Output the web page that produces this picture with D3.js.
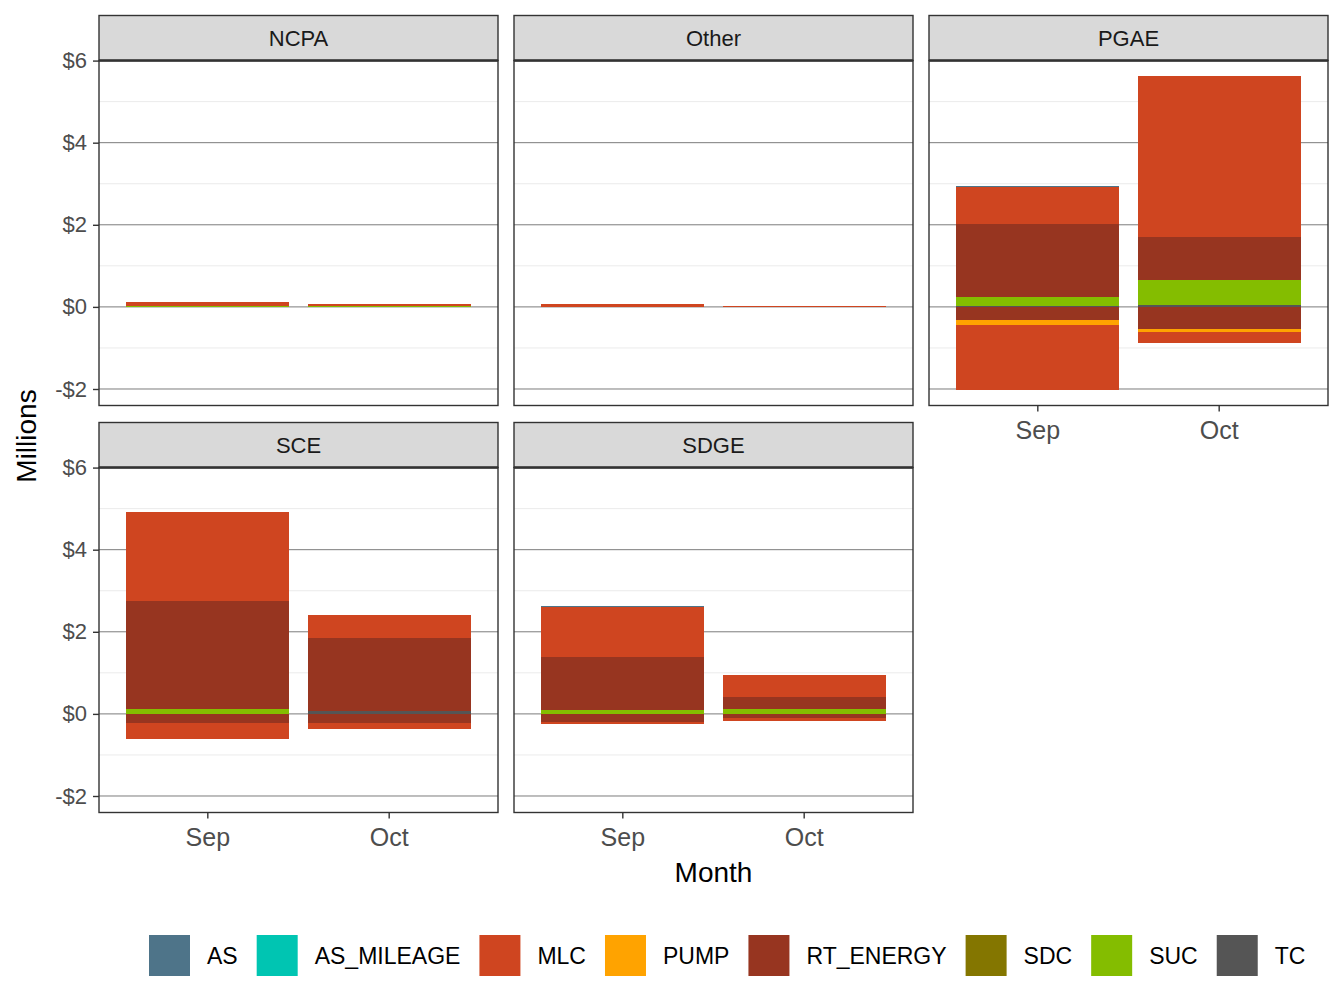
<!DOCTYPE html>
<html>
<head>
<meta charset="utf-8">
<script src="https://cdn.jsdelivr.net/npm/d3@7"></script>
<style>
  body { margin: 0; background: #fff; }
  text { font-family: "Liberation Sans", Arial, Helvetica, sans-serif; }
</style>
</head>
<body>
<div id="chart"></div>
<script>
// facets, months and cost categories
var facets = ["NCPA", "Other", "PGAE", "SCE", "SDGE"];
var months = ["Sep", "Oct"];
var categories = ["AS", "AS_MILEAGE", "MLC", "PUMP", "RT_ENERGY", "SDC", "SUC", "TC"];
var colors = ["#4e7489", "#00c5b2", "#cf4520", "#ffa300", "#973520", "#847600", "#84bd00", "#555555"];
var yTicks = [-2, 0, 2, 4, 6];

// rows: [month, category, millions]
var ncpa = [
    ["Sep", "MLC", 0.11], ["Sep", "SUC", 0.01],
    ["Oct", "MLC", 0.07], ["Oct", "SUC", 0.01]
];
var other = [
    ["Sep", "MLC", 0.08],
    ["Oct", "MLC", 0.03]
];
var pgae = [
    ["Sep", "AS", 0.03], ["Sep", "MLC", 0.90], ["Sep", "RT_ENERGY", 1.78], ["Sep", "SUC", 0.20], ["Sep", "TC", 0.03],
    ["Sep", "RT_ENERGY", -0.33], ["Sep", "PUMP", -0.10], ["Sep", "MLC", -1.59],
    ["Oct", "MLC", 3.92], ["Oct", "RT_ENERGY", 1.04], ["Oct", "SUC", 0.61], ["Oct", "TC", 0.05],
    ["Oct", "RT_ENERGY", -0.53], ["Oct", "PUMP", -0.07], ["Oct", "MLC", -0.27]
];
var sce = [
    ["Sep", "MLC", 2.17], ["Sep", "RT_ENERGY", 2.63], ["Sep", "SUC", 0.12],
    ["Sep", "RT_ENERGY", -0.21], ["Sep", "MLC", -0.39],
    ["Oct", "MLC", 0.56], ["Oct", "RT_ENERGY", 1.80], ["Oct", "TC", 0.06],
    ["Oct", "RT_ENERGY", -0.22], ["Oct", "MLC", -0.15]
];
var sdge = [
    ["Sep", "AS", 0.03], ["Sep", "MLC", 1.22], ["Sep", "RT_ENERGY", 1.29], ["Sep", "SUC", 0.10],
    ["Sep", "RT_ENERGY", -0.19], ["Sep", "MLC", -0.05],
    ["Oct", "MLC", 0.54], ["Oct", "RT_ENERGY", 0.29], ["Oct", "SUC", 0.12],
    ["Oct", "RT_ENERGY", -0.10], ["Oct", "MLC", -0.07]
];
var facetRows = { NCPA: ncpa, Other: other, PGAE: pgae, SCE: sce, SDGE: sdge };

var width = 1344, height = 1008;
var font = "'Liberation Sans', Arial, Helvetica, sans-serif";
var svg = d3.select("#chart").append("svg").attr("width", width).attr("height", height);

// layout of the facet grid
var colX = [99, 514, 929], colW = 399;
var rowY = [60.5, 467.5], panelH = 345, stripH = 45;

// stack keys: TC nearest zero, AS farthest (ggplot order)
var keys = [];
categories.slice().reverse().forEach(function (c) {
    keys.push(c + "|pos");
    keys.push(c + "|neg");
});

function tableFor(rows) {
    return months.map(function (m) {
        var o = { month: m };
        keys.forEach(function (k) { o[k] = 0; });
        rows.forEach(function (r) {
            if (r[0] !== m) return;
            o[r[1] + (r[2] >= 0 ? "|pos" : "|neg")] += r[2];
        });
        return o;
    });
}

var stack = d3.stack().keys(keys).offset(d3.stackOffsetDiverging);
var stacked = {};
var lo = 0, hi = 0;
facets.forEach(function (f) {
    stacked[f] = stack(tableFor(facetRows[f]));
    stacked[f].forEach(function (s) {
        s.forEach(function (d) {
            lo = Math.min(lo, d[0], d[1]);
            hi = Math.max(hi, d[0], d[1]);
        });
    });
});
var pad = (hi - lo) * 0.05;

var color = d3.scaleOrdinal().domain(categories).range(colors);

facets.forEach(function (f, i) {
    var col = i % 3, row = Math.floor(i / 3);
    var x0 = colX[col], y0 = rowY[row];
    var g = svg.append("g");

    var x = d3.scaleBand().domain(months).range([x0, x0 + colW]).paddingInner(0.1).paddingOuter(0.15);
    var y = d3.scaleLinear().domain([lo - pad, hi + pad]).range([y0 + panelH, y0]);

    // minor grid
    g.selectAll(".minor").data([-1, 1, 3, 5]).enter().append("line")
        .attr("x1", x0).attr("x2", x0 + colW)
        .attr("y1", function (d) { return y(d); }).attr("y2", function (d) { return y(d); })
        .attr("stroke", "#ebebeb").attr("stroke-width", 1);
    // major grid
    g.selectAll(".major").data(yTicks).enter().append("line")
        .attr("x1", x0).attr("x2", x0 + colW)
        .attr("y1", function (d) { return y(d); }).attr("y2", function (d) { return y(d); })
        .attr("stroke", "#5a5a5a").attr("stroke-width", 0.8);

    // bars
    stacked[f].forEach(function (s) {
        var cat = s.key.split("|")[0];
        g.append("g").attr("fill", color(cat)).attr("shape-rendering", "crispEdges")
            .selectAll("rect").data(s).enter().append("rect")
            .attr("x", function (d) { return x(d.data.month); })
            .attr("width", x.bandwidth())
            .attr("y", function (d) { return y(Math.max(d[0], d[1])); })
            .attr("height", function (d) { return Math.abs(y(d[0]) - y(d[1])); });
    });

    // panel border
    g.append("rect").attr("x", x0).attr("y", y0).attr("width", colW).attr("height", panelH)
        .attr("fill", "none").attr("stroke", "#333333").attr("stroke-width", 1.4);

    // strip
    g.append("rect").attr("x", x0).attr("y", y0 - stripH).attr("width", colW).attr("height", stripH)
        .attr("fill", "#d9d9d9").attr("stroke", "#333333").attr("stroke-width", 1.4);
    g.append("line").attr("x1", x0).attr("x2", x0 + colW).attr("y1", y0).attr("y2", y0)
        .attr("stroke", "#333333").attr("stroke-width", 2.6);
    g.append("text").attr("x", x0 + colW / 2).attr("y", y0 - stripH / 2 + 8)
        .attr("text-anchor", "middle").attr("font-size", 22).attr("fill", "#1a1a1a").text(f);

    // y axis on first column
    if (col === 0) {
        var yAxis = g.append("g").attr("transform", "translate(" + x0 + ",0)")
            .call(d3.axisLeft(y).tickValues(yTicks).tickSize(6).tickPadding(6)
                .tickFormat(function (d) { return (d < 0 ? "-$" : "$") + Math.abs(d); }));
        yAxis.select(".domain").remove();
        yAxis.selectAll("line").attr("stroke", "#333333").attr("stroke-width", 1.4);
        yAxis.selectAll("text").attr("font-size", 22).attr("fill", "#4d4d4d").attr("font-family", font);
    }

    // x axis on the lowest panel of each column
    if (row === 1 || col === 2) {
        var xAxis = g.append("g").attr("transform", "translate(0," + (y0 + panelH) + ")")
            .call(d3.axisBottom(x).tickSize(6).tickPadding(10));
        xAxis.select(".domain").remove();
        xAxis.selectAll("line").attr("stroke", "#333333").attr("stroke-width", 1.4);
        xAxis.selectAll("text").attr("font-size", 25).attr("fill", "#4d4d4d").attr("font-family", font);
    }
});

// axis titles
svg.append("text").attr("x", 713.5).attr("y", 882).attr("text-anchor", "middle")
    .attr("font-size", 28).attr("fill", "#000").text("Month");
svg.append("text").attr("transform", "translate(36,436) rotate(-90)").attr("text-anchor", "middle")
    .attr("font-size", 28).attr("fill", "#000").text("Millions");

// legend
var legend = svg.append("g");
var lx = 149, ly = 935, keySize = 41;
categories.forEach(function (c) {
    legend.append("rect").attr("x", lx).attr("y", ly).attr("width", keySize).attr("height", keySize)
        .attr("fill", color(c));
    var t = legend.append("text").attr("x", lx + keySize + 17).attr("y", ly + keySize / 2 + 8)
        .attr("font-size", 23).attr("fill", "#000").text(c);
    lx += keySize + 17 + t.node().getComputedTextLength() + 19;
});
</script>
</body>
</html>
